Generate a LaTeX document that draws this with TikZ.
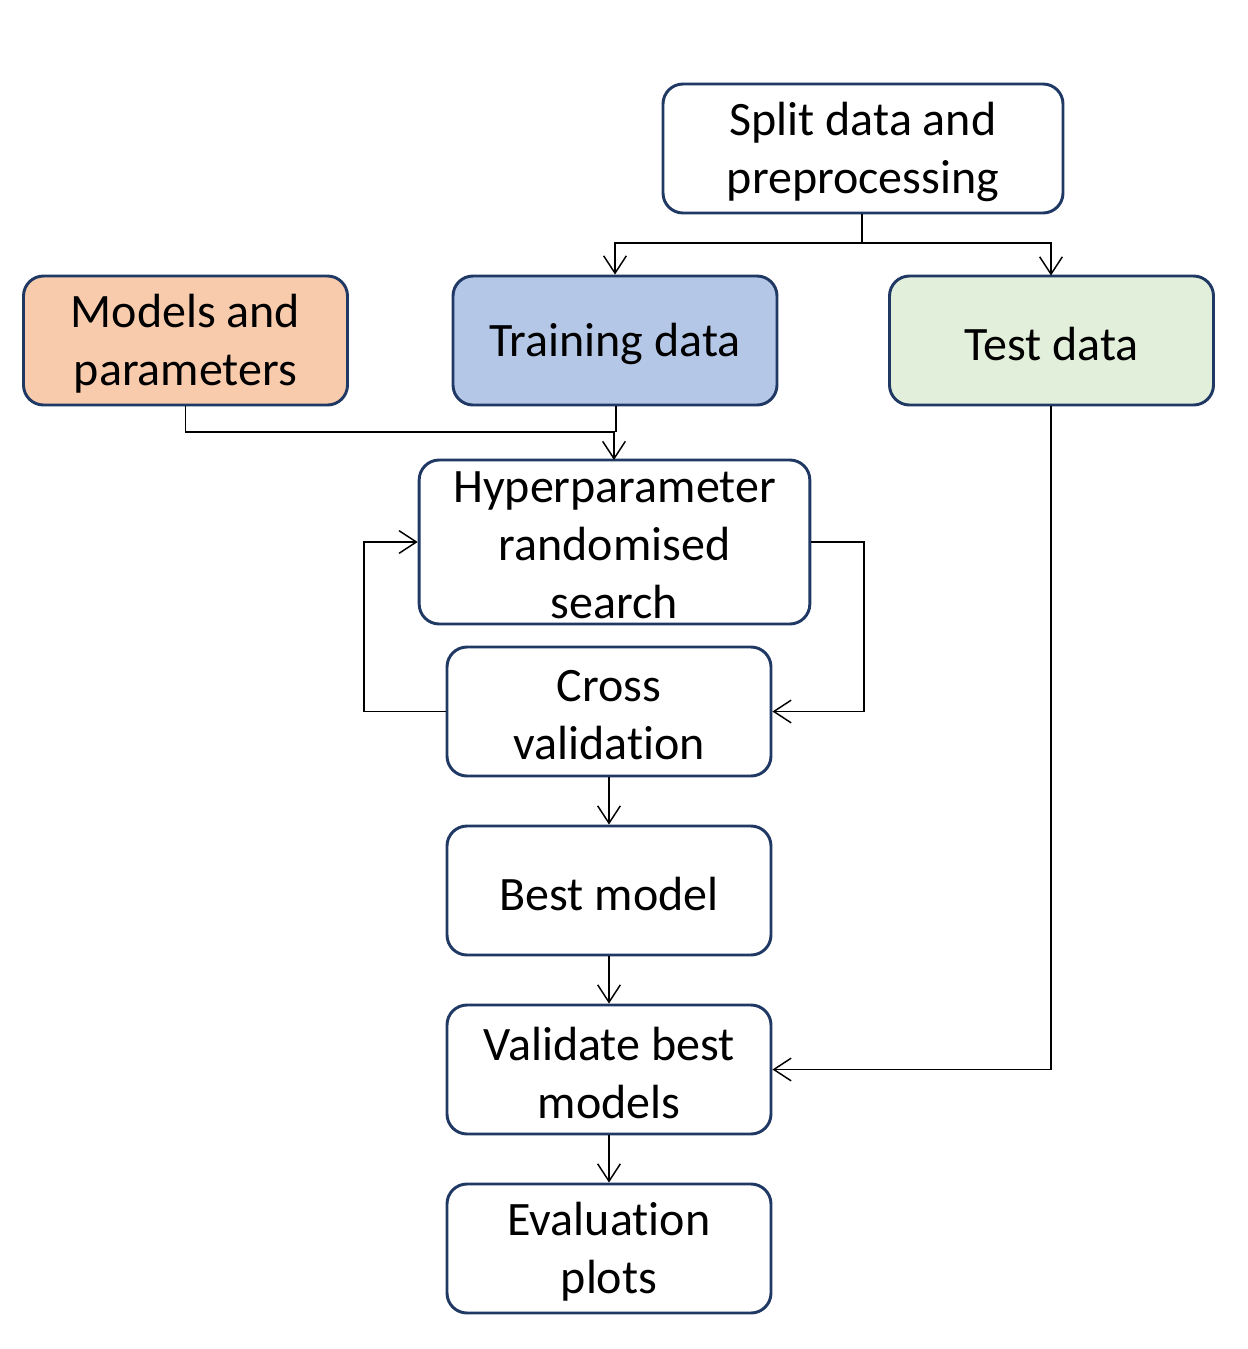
\documentclass[tikz,border=0pt]{standalone}
\usepackage{fontspec}
\setmainfont[Ligatures={NoCommon}]{Carlito}
\usetikzlibrary{arrows.meta}
\definecolor{navy}{HTML}{1F3864}
\definecolor{peach}{HTML}{F8CBAD}
\definecolor{lblue}{HTML}{B4C7E7}
\definecolor{lgreen}{HTML}{E2EFDA}
\tikzset{
  box/.style={draw=navy, line width=2.2pt, rounded corners=15pt, fill=white,
    inner sep=0pt, minimum width=243pt, minimum height=96.75pt},
  txt/.style={align=center, inner sep=0pt, yshift=-2.7pt,
    font=\fontsize{36}{43.5}\selectfont},
  conn/.style={draw=black, line width=1.1pt, -{Straight Barb[length=13pt,width=17pt,line width=1.1pt]}},
  plain/.style={draw=black, line width=1.1pt}
}
\begin{document}
\begin{tikzpicture}[x=0.75pt,y=-0.75pt]
\useasboundingbox (0,0) rectangle (1247,1349);
\node[box, minimum width=300pt, label={[txt]center:{Split data and\\preprocessing}}] (split) at (863,148.5) {};
\node[box, fill=peach, label={[txt]center:{Models and\\parameters}}] (models) at (185.5,340.5) {};
\node[box, fill=lblue, label={[txt]center:{Training data}}] (train) at (615,340.5) {};
\node[box, fill=lgreen, label={[txt]center:{Test data}}] (test) at (1051.5,340.5) {};
\node[box, minimum width=293pt, minimum height=123pt, label={[txt]center:{Hyperparameter\\randomised\\search}}] (hyper) at (614.5,542) {};
\node[box, label={[txt]center:{Cross\\validation}}] (cross) at (609,711.5) {};
\node[box, label={[txt]center:{Best model}}] (best) at (609,890.5) {};
\node[box, label={[txt]center:{Validate best\\models}}] (valid) at (609,1069.5) {};
\node[box, label={[txt]center:{Evaluation\\plots}}] (eval) at (609,1248.5) {};
\coordinate (sj) at (862,243);
\draw[plain] (split.south -| sj) -- (sj);
\draw[conn] (sj) -- (615,243) -- (train.north);
\draw[conn] (sj) -- (1051,243) -- (1051,275.5);
\draw[plain] (train.south -| 616,0) -- (616,432);
\draw[conn] (models.south) -- (185.5,432) -- (614,432) -- (614,460);
\draw[conn] (hyper.east) -- (864,542) -- (864,711.5) -- (cross.east);
\draw[conn] (cross.west) -- (364,711.5) -- (364,542) -- (hyper.west);
\draw[conn] (cross.south) -- (best.north);
\draw[conn] (best.south) -- (valid.north);
\draw[conn] (valid.south) -- (eval.north);
\draw[conn] (test.south -| 1051,0) -- (1051,1069.5) -- (valid.east);
\end{tikzpicture}
\end{document}
